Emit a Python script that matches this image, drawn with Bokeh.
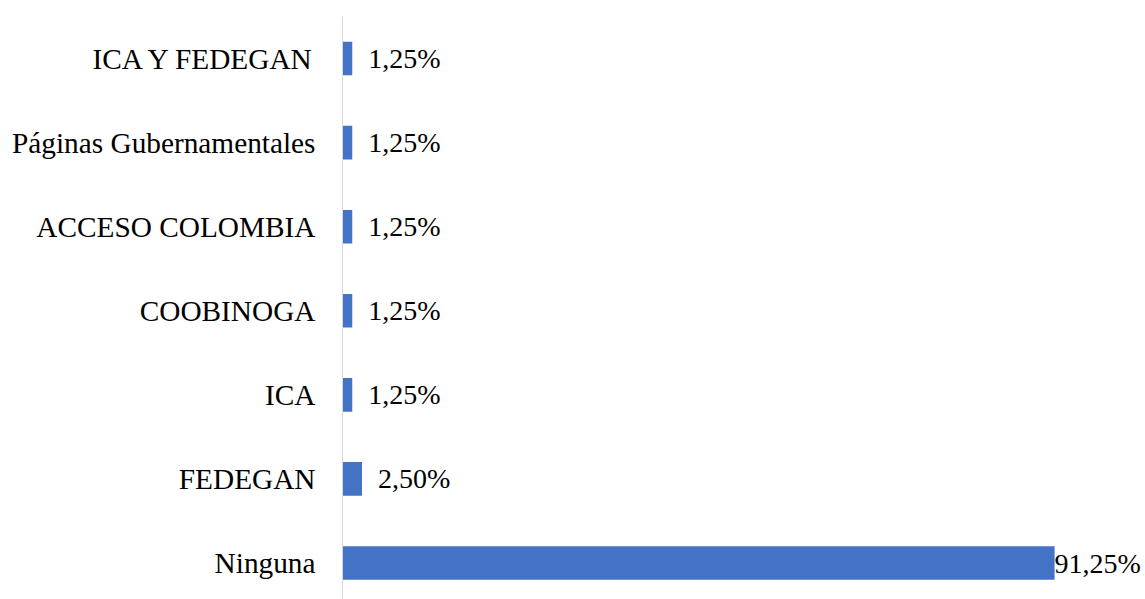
from bokeh.plotting import figure
from bokeh.models import ColumnDataSource, Range1d, FixedTicker
from bokeh.core.properties import value
from bokeh.embed import file_html
from bokeh.resources import INLINE

categories = ["Ninguna", "FEDEGAN", "ICA", "COOBINOGA", "ACCESO COLOMBIA",
              "Páginas Gubernamentales", "ICA Y FEDEGAN"]
values = [91.25, 2.50, 1.25, 1.25, 1.25, 1.25, 1.25]
value_labels = ["91,25%", "2,50%", "1,25%", "1,25%", "1,25%", "1,25%", "1,25%"]

pos = list(range(len(categories)))
offsets = [0 if v > 50 else 16 for v in values]
src = ColumnDataSource(dict(y=pos, v=values, lab=value_labels, off=offsets))

p = figure(width=1145, height=599, output_backend="svg", toolbar_location=None,
           x_range=Range1d(0, 102.9), y_range=Range1d(-0.434, 6.5),
           min_border_left=342, min_border_right=0, min_border_top=16,
           min_border_bottom=0)
p.outline_line_color = None
p.background_fill_color = "white"
p.border_fill_color = "white"
p.xgrid.visible = False
p.ygrid.visible = False
p.xaxis.visible = False

p.hbar(y="y", right="v", left=0, height=0.4, source=src,
       fill_color="#4472C4", line_color=None)
p.text(x="v", y="y", text="lab", source=src, x_offset="off",
       text_font=value("Liberation Serif"), text_font_size="28px",
       text_baseline="middle", text_align="left", text_color="black")

ax = p.yaxis[0]
ax.ticker = FixedTicker(ticks=pos)
ax.major_label_overrides = {i: c for i, c in zip(pos, categories)}
ax.major_tick_line_color = None
ax.minor_tick_line_color = None
ax.axis_line_color = "#d9d9d9"
ax.axis_line_width = 1
ax.major_label_standoff = 21
ax.major_label_text_font = "Liberation Serif"
ax.major_label_text_font_size = "29.3px"
ax.major_label_text_color = "black"

open("out.html", "w").write(file_html(p, INLINE))
